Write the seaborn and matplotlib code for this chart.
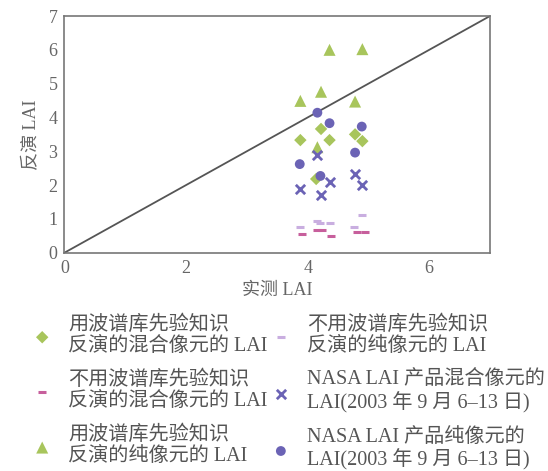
import numpy as np
import pandas as pd
import matplotlib
matplotlib.use("Agg")
import matplotlib.pyplot as plt
import seaborn as sns

# data
diamond_x = [3.88, 4.22, 4.36, 4.78, 4.90, 4.14]
diamond_y = [3.33, 3.66, 3.33, 3.50, 3.30, 2.18]

triangle_x = [3.88, 4.22, 4.36, 4.90, 4.78, 4.16]
triangle_y = [4.49, 4.76, 6.00, 6.02, 4.47, 3.12]

circle_x = [3.87, 4.16, 4.21, 4.36, 4.78, 4.89]
circle_y = [2.62, 4.14, 2.27, 3.83, 2.96, 3.73]

cross_x = [3.87, 4.16, 4.22, 4.36, 4.78, 4.90]
cross_y = [1.88, 2.90, 1.71, 2.10, 2.32, 2.00]

pink_x = [3.90, 4.16, 4.24, 4.39, 4.81, 4.95]
pink_y = [0.55, 0.67, 0.67, 0.50, 0.60, 0.60]

lilac_x = [3.87, 4.15, 4.20, 4.37, 4.76, 4.89]
lilac_y = [0.75, 0.95, 0.87, 0.87, 0.77, 1.10]

line_x = [0, 7]
line_y = [0, 7]

labels = [
    "用波谱库先验知识\n反演的混合像元的 LAI",
    "不用波谱库先验知识\n反演的混合像元的 LAI",
    "用波谱库先验知识\n反演的纯像元的 LAI",
    "不用波谱库先验知识\n反演的纯像元的 LAI",
    "NASA LAI 产品混合像元的\nLAI(2003 年 9 月 6–13 日)",
    "NASA LAI 产品纯像元的\nLAI(2003 年 9 月 6–13 日)",
]

sns.set_style("white")
plt.rcParams['font.family'] = ['Liberation Serif', 'Noto Sans CJK SC', 'DejaVu Sans']

green = "#a8c55c"
purple = "#6b63b5"
pink = "#c75f9c"
lilac = "#c9aee0"
grey = "#777777"

fig = plt.figure(figsize=(5.48, 4.71), dpi=100)
ax = fig.add_axes([0.1177, 0.4635, 0.7765, 0.5025])

ax.plot(line_x, line_y, color="#555555", lw=1.3, zorder=1)

sns.scatterplot(x=diamond_x, y=diamond_y, marker="D", s=40, color=green,
                edgecolor="none", ax=ax, label=labels[0], zorder=3)
sns.scatterplot(x=pink_x, y=pink_y, marker="_", s=40, color=pink,
                linewidth=2.2, ax=ax, label=labels[1], zorder=3)
sns.scatterplot(x=triangle_x, y=triangle_y, marker="^", s=75, color=green,
                edgecolor="none", ax=ax, label=labels[2], zorder=3)
sns.scatterplot(x=lilac_x, y=lilac_y, marker="_", s=40, color=lilac,
                linewidth=2.2, ax=ax, label=labels[3], zorder=3)
sns.scatterplot(x=cross_x, y=cross_y, marker="x", s=45, color=purple,
                linewidth=2, ax=ax, label=labels[4], zorder=3)
sns.scatterplot(x=circle_x, y=circle_y, marker="o", s=50, color=purple,
                edgecolor="none", ax=ax, label=labels[5], zorder=3)

ax.set_xlim(0, 7)
ax.set_ylim(0, 7)
ax.set_xticks([0, 2, 4, 6])
ax.set_yticks(range(0, 8))
ax.tick_params(direction="in", length=4, color=grey, labelsize=13,
               labelcolor="#666666", pad=5)
for sp in ax.spines.values():
    sp.set_color(grey)
    sp.set_linewidth(1.2)

ax.set_xlabel("实测 LAI", fontsize=13, color="#666666", labelpad=4)
ax.set_ylabel("反演 LAI", fontsize=13, color="#666666", labelpad=6)

leg = ax.legend(loc="upper left", bbox_to_anchor=(-0.095, -0.23), ncol=2,
                frameon=False, fontsize=14.5, labelspacing=0.72,
                handletextpad=0.8, columnspacing=0.15, handlelength=1.0,
                borderaxespad=0)
for t in leg.get_texts():
    t.set_color("#555555")
    t.set_linespacing(1.15)

fig.savefig("out.png", dpi=100)
